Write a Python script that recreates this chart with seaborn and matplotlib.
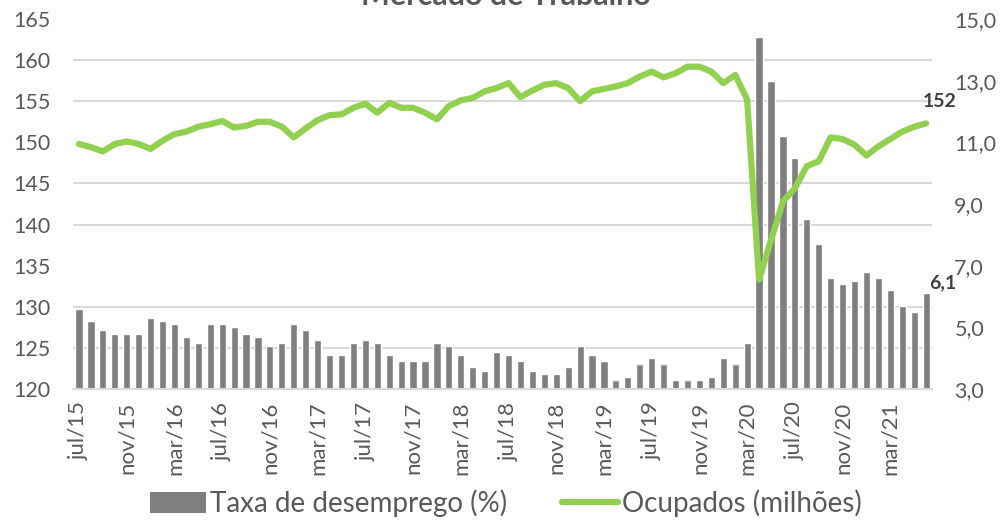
import numpy as np
import pandas as pd
import seaborn as sns
import matplotlib.pyplot as plt
from matplotlib.patches import Patch
from matplotlib.lines import Line2D

# monthly data, jul/15 .. jun/21
meses_pt = ["jan", "fev", "mar", "abr", "mai", "jun",
            "jul", "ago", "set", "out", "nov", "dez"]
datas = pd.date_range("2015-07-01", "2021-06-01", freq="MS")
rotulos = [f"{meses_pt[d.month - 1]}/{str(d.year)[2:]}" for d in datas]

# taxa de desemprego (%) - right axis, bars
desemprego = [5.6, 5.2, 4.9, 4.8, 4.8, 4.8, 5.3, 5.2, 5.1, 4.7, 4.5, 5.1,
              5.1, 5.0, 4.8, 4.7, 4.4, 4.5, 5.1, 4.9, 4.6, 4.1, 4.1, 4.5,
              4.6, 4.5, 4.1, 3.9, 3.9, 3.9, 4.5, 4.4, 4.1, 3.7, 3.6, 4.2,
              4.1, 3.9, 3.6, 3.5, 3.5, 3.7, 4.4, 4.1, 3.9, 3.3, 3.4, 3.8,
              4.0, 3.8, 3.3, 3.3, 3.3, 3.4, 4.0, 3.8, 4.5, 14.4, 13.0, 11.2,
              10.5, 8.5, 7.7, 6.6, 6.4, 6.5, 6.8, 6.6, 6.2, 5.7, 5.5, 6.1]

# ocupados (milhoes) - left axis, line
ocupados = [149.8, 149.4, 148.9, 149.8, 150.1, 149.8, 149.2, 150.2, 151.0, 151.3,
            151.9, 152.2, 152.6, 151.8, 152.0, 152.5, 152.5, 151.9, 150.6, 151.7,
            152.7, 153.3, 153.4, 154.2, 154.7, 153.6, 154.8, 154.2, 154.2, 153.6,
            152.8, 154.4, 155.1, 155.4, 156.2, 156.6, 157.2, 155.5, 156.3, 157.0,
            157.2, 156.6, 155.0, 156.2, 156.5, 156.8, 157.2, 158.0, 158.6, 157.9,
            158.4, 159.2, 159.2, 158.6, 157.2, 158.2, 155.2, 133.3, 138.1, 142.8,
            144.4, 147.1, 147.7, 150.6, 150.4, 149.7, 148.4, 149.5, 150.4, 151.3,
            151.9, 152.3]

df = pd.DataFrame({"pos": np.arange(len(rotulos)), "mes": rotulos,
                   "desemprego": desemprego, "ocupados": ocupados})

sns.set_style("white")
plt.rcParams["font.family"] = ["Lato", "DejaVu Sans"]
cinza_txt = "#595959"
grade = "#d9d9d9"

fig = plt.figure(figsize=(10.02, 5.20), dpi=100)
ax = fig.add_axes([0.0729, 0.2519, 0.8573, 0.7116])
ax2 = ax.twinx()

# bars on the secondary axis
sns.barplot(data=df, x="pos", y="desemprego", color="#7f7f7f", saturation=1,
            width=0.6, ax=ax2, zorder=2)
ax2.set_ylim(3, 15)
ax2.set_yticks(np.arange(3, 16, 2))
ax2.set_yticklabels([f"{v:.1f}".replace(".", ",") for v in np.arange(3, 16, 2)])
# gridlines follow the left axis ticks (120..165 step 5)
ax2.set_yticks(np.linspace(3, 15, 10), minor=True)
ax2.grid(which="minor", axis="y", color=grade, linewidth=1.5, zorder=0)
ax2.set_axisbelow(True)
ax2.tick_params(axis="y", which="both", length=0, pad=16, labelsize=15.5, labelcolor=cinza_txt)
ax2.set_ylabel("")

# line on the primary axis, drawn above the bars
sns.lineplot(data=df, x="pos", y="ocupados", color="#92d050", linewidth=4.5, ax=ax,
             solid_joinstyle="round", solid_capstyle="round")
ax.set_zorder(ax2.get_zorder() + 1)
ax.patch.set_visible(False)
ax.set_ylim(120, 165)
ax.set_yticks(np.arange(120, 166, 5))
ax.tick_params(axis="y", length=0, pad=16, labelsize=15.5, labelcolor=cinza_txt)
ax.set_ylabel("")
ax.set_xlabel("")
ax2.set_xlabel("")

# x axis: labels every 4 months at category centres, ticks between categories
ax.set_xlim(-0.5, len(rotulos) - 0.5)
ax.set_xticks(np.arange(0, len(rotulos), 4))
ax.set_xticklabels(rotulos[::4], rotation=90)
ax.set_xticks(np.arange(-0.5, len(rotulos), 4).tolist() + [len(rotulos) - 0.5], minor=True)
ax.tick_params(axis="x", which="major", length=0, pad=9, labelsize=16, labelcolor=cinza_txt)
ax.tick_params(axis="x", which="minor", length=7, width=1.5, color=grade)
ax2.tick_params(axis="x", which="both", length=0, labelbottom=False)

for a in (ax, ax2):
    for s in a.spines.values():
        s.set_visible(False)
ax.spines["bottom"].set_visible(True)
ax.spines["bottom"].set_color(grade)
ax.spines["bottom"].set_linewidth(1.5)

# data labels at the end
ax.annotate(f"{ocupados[-1]:.0f}", (df["pos"].iloc[-1], ocupados[-1]),
            xytext=(10, 16), textcoords="offset points", ha="center", va="center",
            fontsize=14, fontweight="bold", color="#404040", annotation_clip=False)
ax2.annotate(f"{desemprego[-1]:.1f}".replace(".", ","), (df["pos"].iloc[-1], desemprego[-1]),
             xytext=(12, 8), textcoords="offset points", ha="center", va="center",
             fontsize=14, fontweight="bold", color="#404040", annotation_clip=False)

fig.text(0.505, 0.990, "Mercado de Trabalho", ha="center", va="baseline",
         fontsize=22, fontweight="bold", color=cinza_txt)

handles = [Patch(facecolor="#7f7f7f", edgecolor="none"),
           Line2D([0], [0], color="#92d050", linewidth=4.5)]
fig.legend(handles, ["Taxa de desemprego (%)", "Ocupados (milhões)"],
           loc="lower center", bbox_to_anchor=(0.505, -0.042), ncol=2, frameon=False,
           fontsize=20, labelcolor=cinza_txt, handlelength=2.0, handleheight=0.8,
           handletextpad=0.15, columnspacing=2.0)

fig.savefig("out.png", dpi=100)
